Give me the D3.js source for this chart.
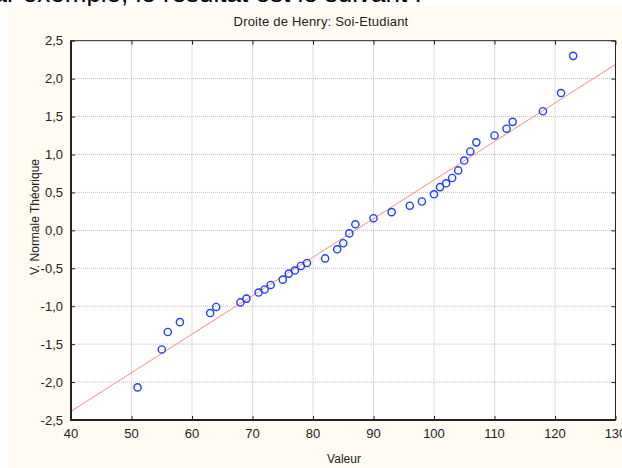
<!doctype html>
<html lang="fr">
<head>
  <meta charset="utf-8">
  <script src="https://d3js.org/d3.v7.min.js"></script>
  <style>
    body { margin: 0; background: white; }
    text { font-family: Arial, "Liberation Sans", sans-serif; }
  </style>
</head>
<body>
  <svg id="plot" width="622" height="468"></svg>
  <script>
    // values
    var valeurs = [51, 55, 56, 58, 63, 64, 68, 69, 71, 72, 73, 75, 76, 77, 78, 79, 82, 84, 85, 86,
                   87, 90, 93, 96, 98, 100, 101, 102, 103, 104, 105, 106, 107, 110, 112, 113, 118, 121, 123];
    var theoriques = [-2.07, -1.57, -1.34, -1.21, -1.09, -1.01, -0.95, -0.90, -0.82, -0.78, -0.72, -0.65,
                      -0.57, -0.53, -0.47, -0.43, -0.37, -0.25, -0.17, -0.04, 0.08, 0.16, 0.24, 0.325,
                      0.38, 0.475, 0.57, 0.62, 0.69, 0.79, 0.92, 1.04, 1.16, 1.25, 1.34, 1.43, 1.57, 1.81, 2.30];
    // droite de Henry (end points)
    var droiteX = [40, 130];
    var droiteY = [-2.385, 2.187];
    var xTicks = [40, 50, 60, 70, 80, 90, 100, 110, 120, 130];
    var yTicks = [-2.5, -2.0, -1.5, -1.0, -0.5, 0.0, 0.5, 1.0, 1.5, 2.0, 2.5];

    var L = 71, R = 615.5, T = 40.7, B = 420;
    var svg = d3.select("#plot");

    // cut-off line of text above the chart (cream panel covers most of it)
    svg.append("text").attr("x", -22).attr("y", 2).style("font-size", "26px").style("fill", "#000")
      .text("par exemple, le résultat est le suivant :");

    // cream page background
    svg.append("rect").attr("x", 8).attr("y", 6).attr("width", 614).attr("height", 462)
      .attr("fill", "#fffbf2");

    var x = d3.scaleLinear().domain([40, 130]).range([L, R]);
    var y = d3.scaleLinear().domain([-2.5, 2.5]).range([B, T]);

    svg.append("rect").attr("x", L).attr("y", T).attr("width", R - L).attr("height", B - T)
      .attr("fill", "white");

    // grid
    svg.append("g").selectAll("line").data(xTicks.slice(1, -1)).enter().append("line")
      .attr("x1", d => x(d)).attr("x2", d => x(d)).attr("y1", T).attr("y2", B)
      .attr("stroke", "#bdbdbd").attr("stroke-dasharray", "1,1");
    svg.append("g").selectAll("line").data(yTicks.slice(1, -1)).enter().append("line")
      .attr("y1", d => y(d)).attr("y2", d => y(d)).attr("x1", L).attr("x2", R)
      .attr("stroke", "#bdbdbd").attr("stroke-dasharray", "1,1");

    svg.append("clipPath").attr("id", "clip").append("rect")
      .attr("x", L).attr("y", T).attr("width", R - L).attr("height", B - T);

    // red line
    svg.append("line").attr("clip-path", "url(#clip)")
      .attr("x1", x(droiteX[0])).attr("y1", y(droiteY[0]))
      .attr("x2", x(droiteX[1])).attr("y2", y(droiteY[1]))
      .attr("stroke", "#ff8a80").attr("stroke-width", 1);

    // points
    svg.append("g").selectAll("circle").data(valeurs).enter().append("circle")
      .attr("cx", (d, i) => x(d)).attr("cy", (d, i) => y(theoriques[i])).attr("r", 3.6)
      .attr("fill", "none").attr("stroke", "#1f3fff").attr("stroke-width", 1.4);

    // axes (ticks pointing inward on all sides)
    var fmt = d => d3.format(".1f")(d).replace(".", ",").replace("−", "-");
    var fmtX = d => d;

    var xb = svg.append("g").attr("transform", "translate(0," + B + ")")
      .call(d3.axisTop(x).tickValues(xTicks).tickSize(4).tickFormat(""));
    var xt = svg.append("g").attr("transform", "translate(0," + T + ")")
      .call(d3.axisBottom(x).tickValues(xTicks).tickSize(4).tickFormat(""));
    var yl = svg.append("g").attr("transform", "translate(" + L + ",0)")
      .call(d3.axisRight(y).tickValues(yTicks).tickSize(4).tickFormat(""));
    var yr = svg.append("g").attr("transform", "translate(" + R + ",0)")
      .call(d3.axisLeft(y).tickValues(yTicks).tickSize(4).tickFormat(""));
    [xb, xt, yl, yr].forEach(g => {
      g.select(".domain").remove();
      g.selectAll("line").attr("stroke", "#222");
    });

    // frame
    svg.append("line").attr("x1", L).attr("x2", R).attr("y1", T).attr("y2", T).attr("stroke", "#222");
    svg.append("line").attr("x1", R).attr("x2", R).attr("y1", T).attr("y2", B).attr("stroke", "#222");
    svg.append("line").attr("x1", L).attr("x2", R).attr("y1", B).attr("y2", B).attr("stroke", "#222").attr("stroke-width", 2);
    svg.append("line").attr("x1", L).attr("x2", L).attr("y1", T - 0.5).attr("y2", B + 1).attr("stroke", "#222").attr("stroke-width", 2);

    // tick labels
    svg.append("g").selectAll("text").data(yTicks).enter().append("text")
      .attr("x", 63).attr("y", d => y(d)).attr("dy", "0.35em")
      .attr("text-anchor", "end").style("font-size", "13px").style("fill", "#222")
      .text(fmt);
    svg.append("g").selectAll("text").data(xTicks).enter().append("text")
      .attr("x", d => x(d)).attr("y", 438)
      .attr("text-anchor", "middle").style("font-size", "13px").style("fill", "#222")
      .text(fmtX);

    // titles
    svg.append("text").attr("x", 321).attr("y", 26).attr("text-anchor", "middle")
      .style("font-size", "13px").style("letter-spacing", "0.2px").style("fill", "#222")
      .text("Droite de Henry: Soi-Etudiant");
    svg.append("text").attr("x", 344).attr("y", 463).attr("text-anchor", "middle")
      .style("font-size", "12px").style("fill", "#222").text("Valeur");
    svg.append("text").attr("transform", "translate(39,217) rotate(-90)").attr("text-anchor", "middle")
      .style("font-size", "12px").style("fill", "#222").text("V. Normale Théorique");
  </script>
</body>
</html>
